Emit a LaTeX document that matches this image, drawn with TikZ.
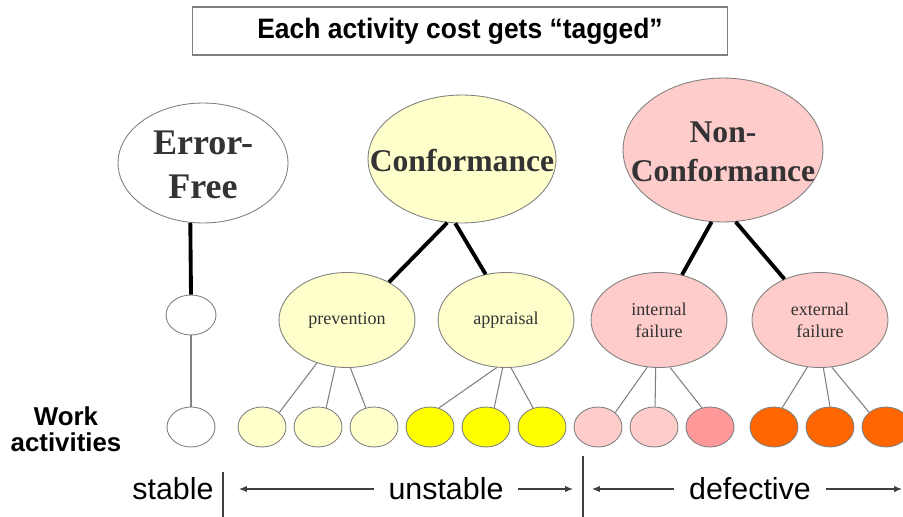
\documentclass[tikz,border=0pt]{standalone}
\usepackage{fontspec}
\setmainfont{Liberation Serif}
\setsansfont{Liberation Sans}
\usepackage{graphicx}
\usetikzlibrary{
  	shapes,
  	positioning,
  	arrows.meta,
  	calc
  }
\definecolor{edgegray}{HTML}{808080}
\definecolor{txtgray}{HTML}{333333}
\definecolor{paleyel}{HTML}{FFFFCC}
\definecolor{brightyel}{HTML}{FFFF00}
\definecolor{palepink}{HTML}{FFCCCC}
\definecolor{deeppink}{HTML}{FF9999}
\definecolor{hotorange}{HTML}{FF6600}
\tikzstyle{ell}=[ellipse, draw=edgegray, line width=0.5pt, inner sep=0pt]
\tikzstyle{leaf}=[ell, minimum width=0.96cm, minimum height=0.8cm]
\tikzstyle{sub}=[ell, minimum width=2.72cm, minimum height=1.9cm, align=center, text=txtgray, font=\fontsize{10.3}{12.5}\selectfont]
\tikzstyle{head}=[text=txtgray, align=center, font=\fontsize{18}{22}\selectfont\bfseries]
\tikzstyle{thick link}=[line width=2.2pt, black]
\tikzstyle{thin link}=[line width=0.6pt, edgegray]
\tikzstyle{band}=[font=\sffamily\fontsize{17.3}{20}\selectfont, inner xsep=0.29cm]
\tikzstyle{arr}=[-{Latex[length=4.5pt,width=3.6pt]}, line width=0.6pt, black!75]

\begin{document}
\begin{tikzpicture}[x=0.02cm, y=-0.02cm]
  \useasboundingbox (0,0) rectangle (903,517);
  \node [draw=edgegray, line width=0.6pt, minimum width=10.7cm, minimum height=0.96cm, inner sep=0pt] (title) at (460,31)
     {\scalebox{0.94}[1]{\sffamily\bfseries\fontsize{16}{19}\selectfont Each activity cost gets “tagged”}};
%
  \node [ell, fill=white, minimum width=3.4cm, minimum height=2.4cm] (ef) at (203,163) {};
  \node [head, font=\fontsize{20.5}{25}\selectfont\bfseries] (eftext) at (203,165) {Error-\\Free};
  \node [ell, fill=white, minimum width=1cm, minimum height=0.8cm] (efmid) at (191,315) {};
  \node [leaf, fill=white] (w0) at (191,427) {};
  \draw [thick link] (ef.258) -- (efmid.north);
  \draw [thin link] (efmid) -- (w0);
%
  \node [ell, fill=paleyel, minimum width=3.76cm, minimum height=2.56cm] (conf) at (462,159) {};
  \node [head] (conftext) at (462,161) {Conformance};
  \node [sub, fill=paleyel] (prev) at (347,320) {prevention};
  \node [sub, fill=paleyel] (appr) at (506,320) {appraisal};
  \draw [thick link] (conf.257) -- (prev.42);
  \draw [thick link] (conf.264) -- (appr.114);
%
  \node [ell, fill=palepink, minimum width=4cm, minimum height=2.88cm] (nc) at (723,150) {};
  \node [head] (nctext) at (723,152) {Non-\\Conformance};
  \node [sub, fill=palepink] (intf) at (659,320) {internal\\failure};
  \node [sub, fill=palepink] (extf) at (820,320) {external\\failure};
  \draw [thick link] (nc.261) -- (intf.63);
  \draw [thick link] (nc.280) -- (extf.131);
%
  \node [leaf, fill=paleyel] (p1) at (262,427) {};
  \path (p1)++(56,0) node [leaf, fill=paleyel] (p2) {};
  \path (p2)++(56,0) node [leaf, fill=paleyel] (p3) {};
  \path (p3)++(56,0) node [leaf, fill=brightyel] (a1) {};
  \path (a1)++(56,0) node [leaf, fill=brightyel] (a2) {};
  \path (a2)++(56,0) node [leaf, fill=brightyel] (a3) {};
  \path (a3)++(56,0) node [leaf, fill=palepink] (i1) {};
  \path (i1)++(56,0) node [leaf, fill=palepink] (i2) {};
  \path (i2)++(56,0) node [leaf, fill=deeppink] (i3) {};
  \path (i3)++(64,0) node [leaf, fill=hotorange] (e1) {};
  \path (e1)++(56,0) node [leaf, fill=hotorange] (e2) {};
  \path (e2)++(56,0) node [leaf, fill=hotorange] (e3) {};
  \draw [thin link] (p1.40) -- (prev.235);
  \draw [thin link] (p2.67) -- (prev.256);
  \draw [thin link] (p3.113) -- (prev.274);
  \draw [thin link] (a1.65) -- (appr.259);
  \draw [thin link] (a2.67) -- (appr.266);
  \draw [thin link] (a3.115) -- (appr.276);
  \draw [thin link] (i1.40) -- (intf.256);
  \draw [thin link] (i2.87) -- (intf.266);
  \draw [thin link] (i3.113) -- (intf.283);
  \draw [thin link] (e1.67) -- (extf.255);
  \draw [thin link] (e2.90) -- (extf.274);
  \draw [thin link] (e3.139) -- (extf.284);
%
  \node [font=\sffamily\bfseries\fontsize{14.7}{15}\selectfont, align=center] (work) at (66,429) {Work\\activities};
%
  \node [band] (stab) at (173,489) {stable};
  \node [band] (unst) at (446,489) {unstable};
  \node [band] (defe) at (750,489) {defective};
  \coordinate (bar1top) at (223,472);
  \coordinate (bar1bot) at (223,517);
  \coordinate (bar2top) at (583,456);
  \coordinate (bar2bot) at (583,517);
  \draw [line width=0.6pt, black!75] (bar1top) -- (bar1bot);
  \draw [line width=0.6pt, black!75] (bar2top) -- (bar2bot);
  \coordinate (u1) at (239,489);
  \coordinate (u2) at (573,489);
  \coordinate (d1) at (592,489);
  \coordinate (d2) at (902,489);
  \draw [arr] (unst) -- (u1);
  \draw [arr] (unst) -- (u2);
  \draw [arr] (defe) -- (d1);
  \draw [arr] (defe) -- (d2);
\end{tikzpicture}
\end{document}
